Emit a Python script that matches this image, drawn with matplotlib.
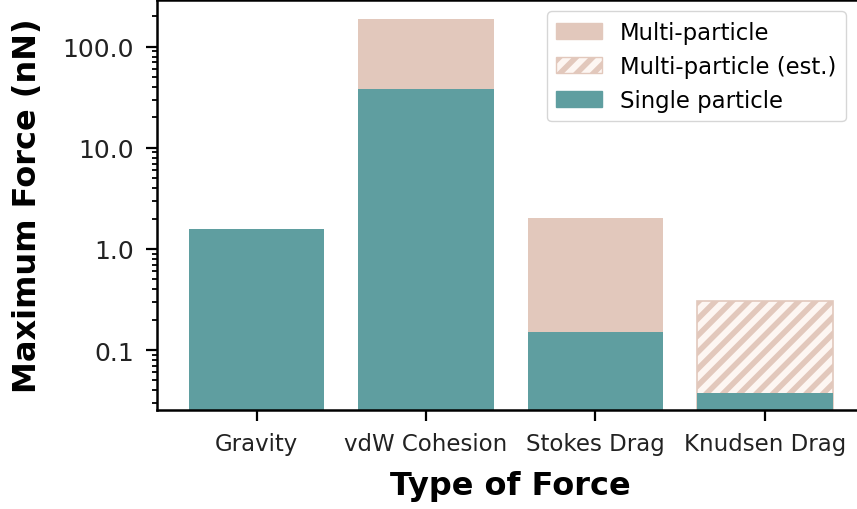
import numpy as np
import matplotlib
matplotlib.use('Agg')
import matplotlib.pyplot as plt
from matplotlib.ticker import FormatStrFormatter, NullFormatter
from matplotlib.patches import Patch

forces = ['Gravity', 'vdW Cohesion', 'Stokes Drag', 'Knudsen Drag']
single = [1.58, 38.4, 0.15, 0.038]
multi = [np.nan, 189.0, 2.03, np.nan]
multi_est = [np.nan, np.nan, np.nan, 0.305]

teal = '#5f9ea0'
pink = '#e2c8bc'
cream = '#fdf6f2'

plt.rcParams['hatch.linewidth'] = 4.0

fig = plt.figure(figsize=(8.57, 5.10), dpi=100)
ax = fig.add_axes([0.183, 0.194, 0.826, 0.804])

x = np.arange(len(forces))
ax.bar(x, multi, width=0.8, color=pink)
ax.bar(x, multi_est, width=0.8, facecolor=cream, edgecolor=pink, hatch='//', linewidth=1.2)
ax.bar(x, single, width=0.8, color=teal)

ax.set_yscale('log')
ax.set_ylim(0.0255, 290)
ax.set_xlim(-0.59, 3.59)
ax.yaxis.set_major_formatter(FormatStrFormatter('%.1f'))
ax.yaxis.set_minor_formatter(NullFormatter())
ax.set_xticks(x)
ax.set_xticklabels(forces)
ax.tick_params(axis='x', labelsize=16.5, pad=7.5)
ax.tick_params(axis='y', labelsize=18, pad=8.5)
ax.tick_params(which='major', length=8, width=1.6, labelcolor='#222222')
ax.tick_params(which='minor', length=3.5, width=1.3)
for s in ax.spines.values():
    s.set_linewidth(1.8)

ax.set_xlabel('Type of Force', fontsize=23, fontweight='bold', labelpad=11)
ax.set_ylabel('Maximum Force (nN)', fontsize=23, fontweight='bold', labelpad=14)

handles = [Patch(color=pink, label='Multi-particle'),
           Patch(facecolor=cream, edgecolor=pink, hatch='//', label='Multi-particle (est.)'),
           Patch(color=teal, label='Single particle')]
ax.legend(handles=handles, loc='upper right', bbox_to_anchor=(0.989, 1.0), fontsize=16.4)

fig.savefig('out.png', dpi=100)
